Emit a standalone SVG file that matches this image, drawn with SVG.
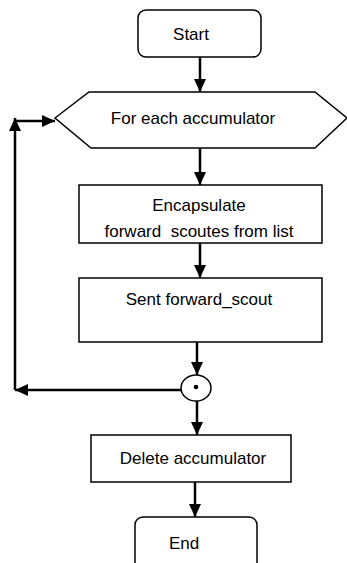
<svg xmlns="http://www.w3.org/2000/svg" width="347" height="563" viewBox="0 0 347 563">
<style>
.box{fill:#fff;stroke:#000;stroke-width:1.5}
.t{font-family:"Liberation Sans",Arial,sans-serif;font-size:17px;fill:#000;text-anchor:middle}
.c{fill:none;stroke:#000;stroke-width:2.5}
</style>
<defs>
<marker id="ah" viewBox="0 0 13 12" refX="13" refY="6" markerWidth="13" markerHeight="12" markerUnits="userSpaceOnUse" orient="auto">
<path d="M0,0 L13,6 L0,12 Z" fill="#000"/>
</marker>
</defs>
<rect width="347" height="563" fill="#fff"/>
<g id="connectors">
<line class="c" x1="200" y1="57" x2="200" y2="92" marker-end="url(#ah)"/>
<line class="c" x1="200" y1="148" x2="200" y2="185" marker-end="url(#ah)"/>
<line class="c" x1="200" y1="243" x2="200" y2="278" marker-end="url(#ah)"/>
<line class="c" x1="197" y1="342" x2="197" y2="375" marker-end="url(#ah)"/>
<line class="c" x1="197" y1="401" x2="197" y2="435" marker-end="url(#ah)"/>
<line class="c" x1="195" y1="482" x2="195" y2="517" marker-end="url(#ah)"/>
<line class="c" x1="181" y1="390" x2="15" y2="390" marker-end="url(#ah)"/>
<line class="c" x1="15" y1="390" x2="15" y2="118" marker-end="url(#ah)"/>
<line class="c" x1="15" y1="121" x2="55" y2="121" marker-end="url(#ah)"/>
</g>
<g id="start">
<rect class="box" x="138" y="10" width="123" height="47" rx="8"/>
<text class="t" x="191" y="40">Start</text>
</g>
<g id="loop">
<polygon class="box" points="55,118 89,92 315,92 347,118 315,148 91,148"/>
<text class="t" x="193" y="124">For each accumulator</text>
</g>
<g id="encapsulate">
<rect class="box" x="79" y="185" width="243" height="58"/>
<text class="t" x="199" y="211">Encapsulate</text>
<text class="t" x="199" y="237" xml:space="preserve">forward  scoutes from list</text>
</g>
<g id="sent">
<rect class="box" x="79" y="278" width="243" height="64"/>
<text class="t" x="199" y="305">Sent forward_scout</text>
</g>
<g id="junction">
<ellipse class="box" cx="196" cy="388" rx="15" ry="13"/>
<circle cx="196" cy="387" r="2.3" fill="#000"/>
</g>
<g id="delete">
<rect class="box" x="91" y="435" width="200" height="47"/>
<text class="t" x="193" y="464">Delete accumulator</text>
</g>
<g id="end">
<rect class="box" x="135" y="517" width="122" height="60" rx="8"/>
<text class="t" x="184" y="549">End</text>
</g>
</svg>
